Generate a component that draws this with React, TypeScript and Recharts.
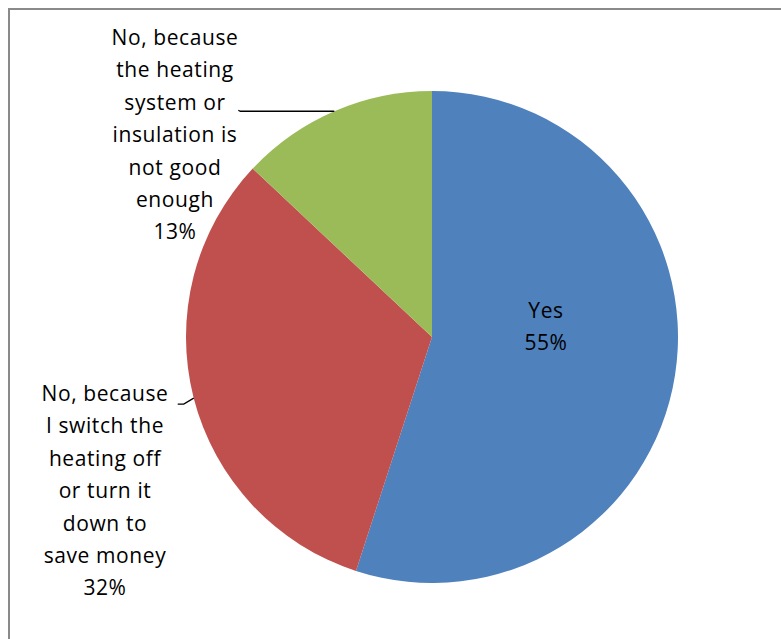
import React from "react";
import { PieChart, Pie, Cell } from "recharts";

const categories = [
  "Yes",
  "No, because I switch the heating off or turn it down to save money",
  "No, because the heating system or insulation is not good enough",
];
const values = [55, 32, 13];
const colors = ["#4F81BD", "#C0504D", "#9BBB59"];
const labelLines = [
  ["Yes", "55%"],
  ["No, because", "I switch  the", "heating off", "or turn it", "down to", "save money", "32%"],
  ["No, because", "the heating", "system or", "insulation is", "not good", "enough", "13%"],
];

// label layout relative to pie centre (style config, not data)
const LABEL_LAYOUT = [
  { tx: 114, ty: -27, leader: null as null | number[] },
  { tx: -327, ty: 56, leader: [-10, 6, -16, 6] },
  { tx: -257, ty: -300, leader: [-94, 0, -96, -1] },
];

const data = categories.map((c, i) => ({ name: c, value: values[i], idx: i }));

const W = 781;
const H = 639;
const LINE_H = 32.4;

const renderLabel = (props: any) => {
  const { cx, cy, midAngle, outerRadius, payload } = props;
  const i = payload?.idx ?? props.index;
  const lay = LABEL_LAYOUT[i];
  const RAD = Math.PI / 180;
  const ex = cx + outerRadius * Math.cos(-midAngle * RAD);
  const ey = cy + outerRadius * Math.sin(-midAngle * RAD);
  const lines = labelLines[i];
  let path: string | null = null;
  if (lay.leader) {
    const [ax, ay, bx, by] = lay.leader;
    path = `M${ex},${ey} L${ex + ax},${ey + ay} L${ex + bx},${ey + by}`;
  }
  return (
    <g key={`lbl-${i}`}>
      {path && <path d={path} stroke="#000" strokeWidth={1.3} fill="none" />}
      <text
        x={cx + lay.tx}
        y={cy + lay.ty}
        textAnchor="middle"
        dominantBaseline="central"
        fill="#000"
        style={{ fontFamily: "'Open Sans', sans-serif", fontSize: 21, letterSpacing: 0.6 }}
      >
        {lines.map((l, k) => (
          <tspan key={k} x={cx + lay.tx} y={cy + lay.ty + k * LINE_H}>
            {l}
          </tspan>
        ))}
      </text>
    </g>
  );
};

export default function App() {
  return (
    <div style={{ position: "fixed", left: 0, top: 0, width: W, height: H, overflow: "hidden", background: "#fff" }}>
      <div
        style={{
          position: "absolute",
          left: 8,
          top: 8,
          width: 1000,
          height: 1000,
          border: "2px solid #8a8a8a",
          boxSizing: "border-box",
        }}
      />
      <div style={{ position: "absolute", left: 0, top: 0 }}>
        <PieChart width={W} height={H} margin={{ top: 0, right: 0, bottom: 0, left: 0 }}>
          <Pie
            data={data}
            dataKey="value"
            nameKey="name"
            cx={432}
            cy={337}
            outerRadius={246}
            startAngle={90}
            endAngle={-270}
            stroke="none"
            isAnimationActive={false}
            label={renderLabel}
            labelLine={false}
          >
            {data.map((d, i) => (
              <Cell key={d.name} fill={colors[i]} />
            ))}
          </Pie>
        </PieChart>
      </div>
    </div>
  );
}
